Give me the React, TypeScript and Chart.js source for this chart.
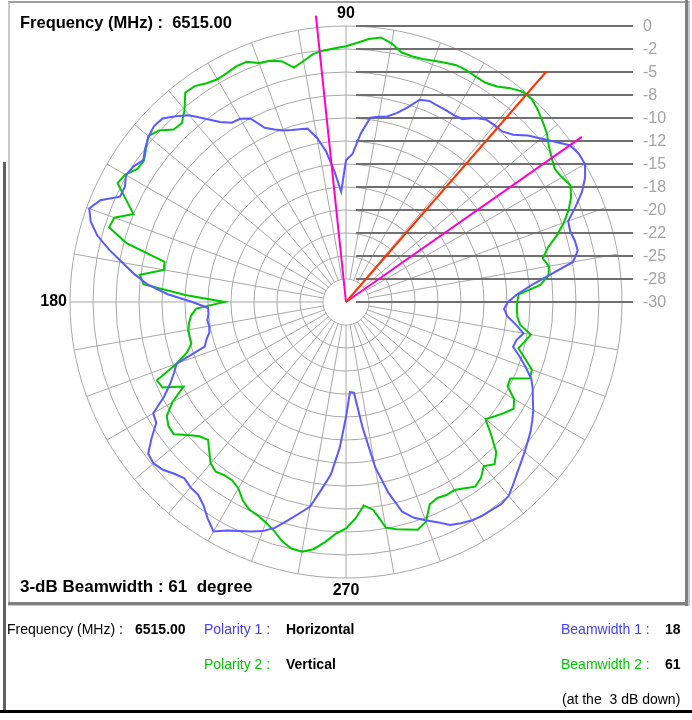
import { useEffect, useRef } from 'react';
import { Chart, registerables } from 'chart.js';

Chart.register(...registerables);

// ---- data (dB, measured at 0°, 2.5°, 5° ... 357.5°, counter-clockwise from the right) ----
const ANGLE_STEP = 2.5;

const horizontalDb = [
  -12.4, -11.4, -9.9, -7.7, -4.95, -4.2, -4.25, -4.45, -4.3, -3.0, -1.7, -0.7,
  0, 0, -0.3, -1.4, -2.35, -3.2, -4.3, -4.85, -4.9, -5.0, -5.6, -6.45,
  -6.55, -6.5, -6.45, -6.35, -6.6, -7.85, -8.75, -9.35, -9.55, -9.8, -11.6, -13.9,
  -14.6, -18.0, -15.8, -13.5, -11.9, -10.7, -10.55, -10.4, -10.15, -9.7, -9.1, -7.5,
  -7.0, -6.9, -6.1, -4.9, -3.5, -2.6, -1.8, -1.7, -2.0, -2.5, -3.1, -2.6,
  -2.4, -2.9, -2.9, -1.1, -0.3, -0.9, -2.0, -3.6, -5.3, -6.8, -8.4, -10.6,
  -13.3, -15.0, -15.0, -14.8, -14.9, -14.8, -14.3, -13.9, -10.4, -9.75, -8.9, -7.7,
  -5.8, -5.55, -4.2, -2.9, -2.7, -3.0, -3.6, -4.0, -3.7, -3.6, -3.0, -2.05,
  -1.2, -2.0, -2.55, -3.0, -3.5, -4.25, -5.4, -6.45, -7.4, -9.4, -11.2, -14.1,
  -17.5, -20.2, -20.1, -16.3, -11.8, -8.8, -6.4, -5.4, -4.75, -4.1, -3.25, -2.9,
  -2.6, -2.45, -2.4, -2.3, -2.5, -3.1, -3.7, -4.2, -4.65, -5.1, -5.5, -6.0,
  -6.5, -7.1, -7.6, -8.2, -9.2, -10.2, -11.2, -11.0, -10.4, -11.4, -12.4, -12.8,
];

const verticalDb = [
  -11.4, -11.2, -8.8, -7.8, -7.6, -8.1, -7.3, -6.0, -4.8, -3.8, -3.0, -2.5,
  -2.9, -3.1, -2.7, -2.2, -1.5, -1.0, -0.5, -0.1, -0.15, -0.7, -1.4, -1.75,
  -1.75, -1.6, -1.6, -1.85, -2.1, -2.3, -2.35, -2.2, -1.45, -1.0, -1.3, -1.8,
  -2.2, -2.4, -2.55, -2.8, -3.4, -3.9, -2.9, -2.5, -2.35, -1.75, -1.75, -1.95,
  -2.05, -1.8, -1.35, -1.3, -2.7, -3.6, -3.5, -2.4, -1.95, -2.6, -3.2, -3.1,
  -2.3, -2.0, -3.6, -5.0, -3.2, -3.0, -5.3, -9.8, -9.9, -7.4, -7.9, -12.5,
  -16.8, -13.7, -13.1, -12.8, -12.6, -12.6, -12.6, -11.9, -10.4, -7.75, -8.0, -10.1,
  -8.2, -6.9, -6.45, -6.4, -7.5, -8.4, -8.8, -8.0, -7.1, -6.75, -7.0, -7.0,
  -6.6, -5.7, -5.1, -4.9, -4.5, -3.95, -3.1, -2.55, -2.45, -2.9, -3.8, -4.8,
  -5.4, -6.45, -7.8, -7.2, -5.1, -4.7, -4.4, -4.05, -4.6, -6.2, -6.5, -6.35,
  -6.4, -6.0, -5.5, -5.9, -6.7, -6.1, -6.9, -8.6, -10.2, -9.6, -9.0, -8.4,
  -8.9, -10.2, -10.3, -8.35, -8.5, -9.6, -10.6, -10.1, -9.6, -10.9, -11.3, -11.4,
];

const tickValues = [0, -2.5, -5, -7.5, -10, -12.5, -15, -17.5, -20, -22.5, -25, -27.5, -30];
const tickLabels = ['0', '-2', '-5', '-8', '-10', '-12', '-15', '-18', '-20', '-22', '-25', '-28', '-30'];

const axisLabelAngles = [90, 180, 270];
const axisLabelTexts = ['90', '180', '270'];

const beamEdgeAngles = [35, 96];
const beamEdgeReach = 1.3; // dB beyond the outer ring
const peakAngle = 49;
const peakReach = 3.2;

// ---- helpers ----
const N = horizontalDb.length;
const topOffset = 90 / ANGLE_STEP;
const orderIdx = (i: number) => (((topOffset - i) % N) + N) % N;
const toDisplayOrder = (arr: number[]) => arr.map((_, i) => arr[orderIdx(i)]);
const displayLabels = horizontalDb.map((_, i) => String(orderIdx(i) * ANGLE_STEP));
const angleToIndex = (deg: number) => ((((90 - deg) % 360) + 360) % 360) / ANGLE_STEP;

const FONT = '"Liberation Sans", Arial, sans-serif';
const BLUE = '#5a5aff';
const GREEN = '#00c800';

const overlayPlugin = {
  id: 'polarOverlay',
  beforeDatasetsDraw(chart: any) {
    const s = chart.scales.r;
    const ctx = chart.ctx;
    const xc = s.xCenter;
    const yc = s.yCenter;
    ctx.save();
    // center hole
    const rh = s.getDistanceFromCenterForValue(-27.5);
    ctx.fillStyle = '#ffffff';
    ctx.beginPath();
    ctx.arc(xc, yc, rh - 0.6, 0, Math.PI * 2);
    ctx.fill();
    // leader lines to the level labels
    ctx.strokeStyle = '#707070';
    ctx.lineWidth = 2;
    tickValues.forEach((v) => {
      const y = Math.round(yc - s.getDistanceFromCenterForValue(v));
      ctx.beginPath();
      ctx.moveTo(xc + 10, y);
      ctx.lineTo(xc + 287, y);
      ctx.stroke();
    });
    // level labels
    ctx.fillStyle = '#a4a4a4';
    ctx.font = `16px ${FONT}`;
    ctx.textAlign = 'left';
    ctx.textBaseline = 'middle';
    tickValues.forEach((v, i) => {
      const y = Math.round(yc - s.getDistanceFromCenterForValue(v));
      ctx.fillText(tickLabels[i], xc + 297, y + 1);
    });
    // angle labels
    ctx.fillStyle = '#000000';
    ctx.font = `bold 16px ${FONT}`;
    const R = s.drawingArea;
    axisLabelAngles.forEach((a, i) => {
      if (a === 180) {
        const p = s.getPointPosition(angleToIndex(a), R + 14);
        ctx.textAlign = 'right';
        ctx.fillText(axisLabelTexts[i], p.x + 11, p.y);
      } else if (a === 90) {
        const p = s.getPointPosition(angleToIndex(a), R + 12);
        ctx.textAlign = 'center';
        ctx.fillText(axisLabelTexts[i], p.x, p.y);
      } else {
        const p = s.getPointPosition(angleToIndex(a), R + 13);
        ctx.textAlign = 'center';
        ctx.fillText(axisLabelTexts[i], p.x, p.y);
      }
    });
    ctx.restore();
  },
  afterDatasetsDraw(chart: any) {
    const s = chart.scales.r;
    const ctx = chart.ctx;
    ctx.save();
    ctx.lineWidth = 2;
    ctx.strokeStyle = '#ff00cc';
    beamEdgeAngles.forEach((a) => {
      const p = s.getPointPosition(angleToIndex(a), s.getDistanceFromCenterForValue(beamEdgeReach));
      ctx.beginPath();
      ctx.moveTo(s.xCenter, s.yCenter);
      ctx.lineTo(p.x, p.y);
      ctx.stroke();
    });
    ctx.strokeStyle = '#ff3300';
    const q = s.getPointPosition(angleToIndex(peakAngle), s.getDistanceFromCenterForValue(peakReach));
    ctx.beginPath();
    ctx.moveTo(s.xCenter, s.yCenter);
    ctx.lineTo(q.x, q.y);
    ctx.stroke();
    ctx.restore();
  },
};

function Txt(props: { x: number; y: number; children: any; bold?: boolean; color?: string; size?: number }) {
  const { x, y, children, bold, color = '#000', size = 14 } = props;
  return (
    <div
      style={{
        position: 'absolute',
        left: x,
        top: y,
        transform: 'translateY(-50%)',
        font: `${bold ? 'bold ' : ''}${size}px ${FONT}`,
        lineHeight: 1,
        color,
        whiteSpace: 'pre',
      }}
    >
      {children}
    </div>
  );
}

export default function App() {
  const ref = useRef<HTMLCanvasElement>(null);

  useEffect(() => {
    if (!ref.current) return;
    const chart = new Chart(ref.current, {
      type: 'radar',
      data: {
        labels: displayLabels,
        datasets: [
          {
            label: 'Horizontal',
            data: toDisplayOrder(horizontalDb),
            borderColor: BLUE,
            backgroundColor: BLUE,
            borderWidth: 2,
            pointRadius: 0,
            fill: false,
            tension: 0,
          },
          {
            label: 'Vertical',
            data: toDisplayOrder(verticalDb),
            borderColor: GREEN,
            backgroundColor: GREEN,
            borderWidth: 2,
            pointRadius: 0,
            fill: false,
            tension: 0,
          },
        ],
      },
      options: {
        responsive: false,
        animation: false,
        devicePixelRatio: 1,
        layout: { padding: { left: 70, top: 26, right: 70, bottom: 142 } },
        plugins: { legend: { display: false }, tooltip: { enabled: false } },
        scales: {
          r: {
            min: -30,
            max: 0,
            ticks: { stepSize: 2.5, display: false },
            grid: { circular: true, color: '#a8a8a8', lineWidth: 1 },
            angleLines: {
              color: '#a8a8a8',
              lineWidth: (c: any) => (c.index % 4 === 0 ? 1 : 0),
            },
            pointLabels: { display: false },
          },
        },
      } as any,
      plugins: [overlayPlugin],
    });
    return () => chart.destroy();
  }, []);

  return (
    <div style={{ position: 'absolute', left: 0, top: 0, width: 692, height: 720, background: '#fff', overflow: 'hidden' }}>
      {/* plot panel frame */}
      <div style={{ position: 'absolute', left: 8, top: 1, width: 682, height: 605, boxSizing: 'border-box', borderTop: '2px solid #a0a0a0', borderLeft: '2px solid #c8c8c8', borderRight: '2px solid #c8c8c8', borderBottom: '2px solid #c8c8c8' }} />
      <div style={{ position: 'absolute', left: 685, top: 0, width: 3, height: 606, background: '#808080' }} />
      <div style={{ position: 'absolute', left: 8, top: 602, width: 680, height: 3, background: '#808080' }} />
      <div style={{ position: 'absolute', left: 3, top: 162, width: 3, height: 550, background: '#606060' }} />
      <div style={{ position: 'absolute', left: 0, top: 710, width: 692, height: 3, background: '#000' }} />

      <canvas ref={ref} width={692} height={720} style={{ position: 'absolute', left: 0, top: 0 }} />

      <Txt x={20} y={22} bold size={16.5}>{'Frequency (MHz) :  6515.00'}</Txt>
      <Txt x={20} y={586} bold size={17}>{'3-dB Beamwidth : 61  degree'}</Txt>

      <Txt x={7} y={629} size={14}>{'Frequency (MHz) :'}</Txt>
      <Txt x={135} y={629} bold size={14}>{'6515.00'}</Txt>
      <Txt x={204} y={629} size={14} color="#4040ff">{'Polarity 1 :'}</Txt>
      <Txt x={286} y={629} bold size={14}>{'Horizontal'}</Txt>
      <Txt x={561} y={629} size={14} color="#4040ff">{'Beamwidth 1 :'}</Txt>
      <Txt x={665} y={629} bold size={14}>{'18'}</Txt>

      <Txt x={204} y={664} size={14} color={GREEN}>{'Polarity 2 :'}</Txt>
      <Txt x={286} y={664} bold size={14}>{'Vertical'}</Txt>
      <Txt x={561} y={664} size={14} color={GREEN}>{'Beamwidth 2 :'}</Txt>
      <Txt x={665} y={664} bold size={14}>{'61'}</Txt>

      <Txt x={562} y={699} size={14}>{'(at the  3 dB down)'}</Txt>
    </div>
  );
}
